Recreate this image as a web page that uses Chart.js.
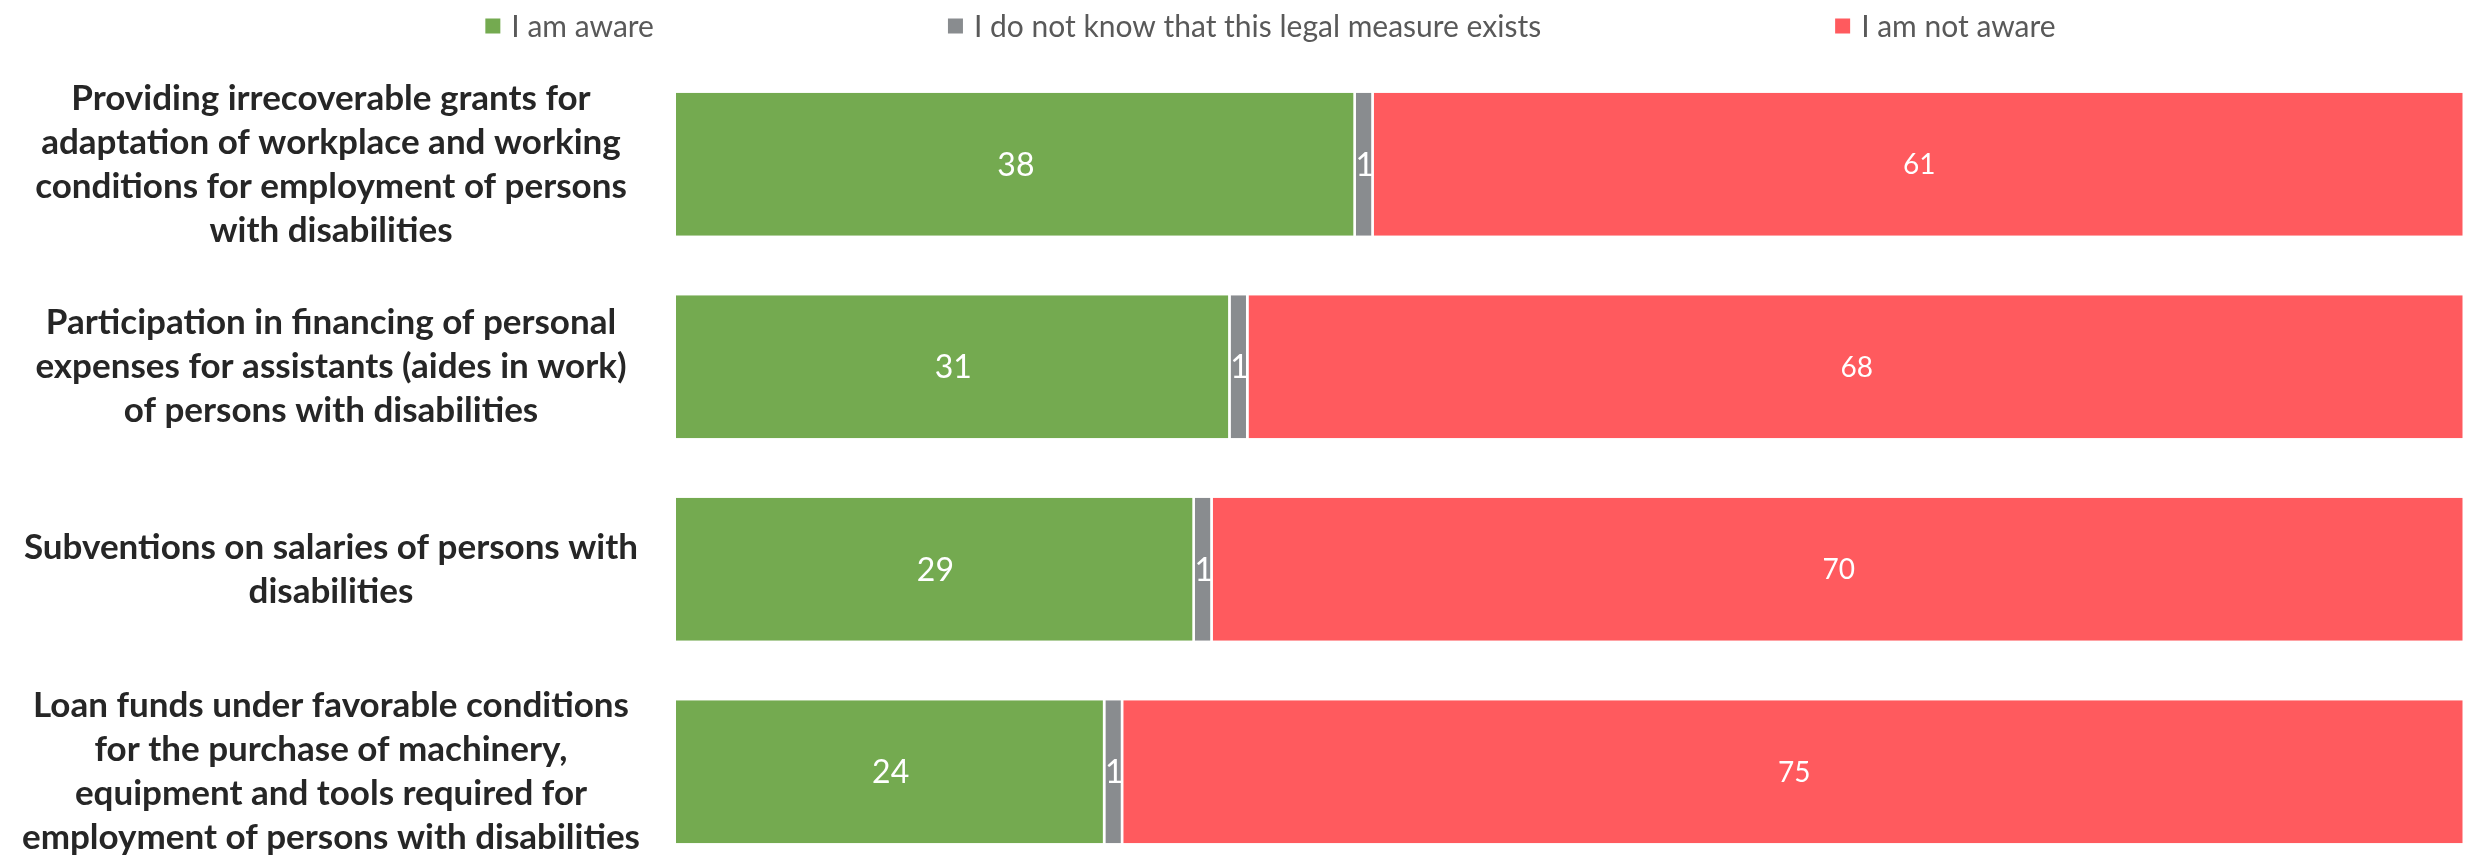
<!DOCTYPE html>
<html>
<head>
<meta charset="utf-8">
<script src="https://cdn.jsdelivr.net/npm/chart.js@4.4.1/dist/chart.umd.min.js"></script>
<style>
    html, body { margin: 0; padding: 0; background: #fff; overflow: hidden; }
    #chart-con { position: relative; width: 2465px; height: 873px; }
</style>
</head>
<body>
<div id="chart-con"><canvas id="my-chart"></canvas></div>
<script>
const labels = [
    ['Providing irrecoverable grants for', 'adaptation of workplace and working', 'conditions for employment of persons', 'with disabilities'],
    ['Participation in financing of personal', 'expenses for assistants (aides in work)', 'of persons with disabilities'],
    ['Subventions on salaries of persons with', 'disabilities'],
    ['Loan funds under favorable conditions', 'for the purchase of machinery,', 'equipment and tools required for', 'employment of persons with disabilities']
];
const seriesNames = ['I am aware', 'I do not know that this legal measure exists', 'I am not aware'];
const aware = [38, 31, 29, 24];
const dontKnow = [1, 1, 1, 1];
const notAware = [61, 68, 70, 75];

Chart.defaults.font.family = 'Lato';
Chart.defaults.animation = false;

// white numbers in the middle of every segment
const barLabels = {
    id: 'barLabels',
    afterDatasetsDraw(chart) {
        const ctx = chart.ctx;
        ctx.save();
        ctx.fillStyle = '#fff';
        ctx.textAlign = 'center';
        ctx.textBaseline = 'middle';
        chart.data.datasets.forEach((ds, i) => {
            ctx.font = ds.labelSize + 'px Lato';
            chart.getDatasetMeta(i).data.forEach((bar, j) => {
                ctx.fillText(ds.data[j], (bar.x + bar.base) / 2, bar.y + 1);
            });
        });
        ctx.restore();
    }
};

// one row legend, items spread with a wide gap
const topLegend = {
    id: 'topLegend',
    afterDraw(chart) {
        const ctx = chart.ctx;
        const box = 15, gap = 11, spacing = 294, y = 26, shift = 38;
        ctx.save();
        ctx.font = '30px Lato';
        ctx.textBaseline = 'middle';
        const items = chart.data.datasets.map(ds => ({
            text: ds.label,
            color: ds.backgroundColor,
            w: box + gap + ctx.measureText(ds.label).width
        }));
        const total = items.reduce((s, it) => s + it.w, 0) + spacing * (items.length - 1);
        let x = chart.width / 2 + shift - total / 2;
        items.forEach(it => {
            ctx.fillStyle = it.color;
            ctx.fillRect(x, y - box / 2, box, box);
            ctx.fillStyle = '#595959';
            ctx.fillText(it.text, x + box + gap, y + 1);
            x += it.w + spacing;
        });
        ctx.restore();
    }
};

const data = {
    labels: labels,
    datasets: [
        { label: seriesNames[0], data: aware, backgroundColor: '#74AA50', labelSize: 32 },
        { label: seriesNames[1], data: dontKnow, backgroundColor: '#898C8F', labelSize: 32 },
        { label: seriesNames[2], data: notAware, backgroundColor: '#FF5A5E', labelSize: 28 }
    ]
};
data.datasets.forEach(ds => {
    ds.borderColor = '#fff';
    ds.borderWidth = { right: 2.5 };
    ds.borderSkipped = false;
    ds.barPercentage = 0.706;
    ds.categoryPercentage = 1;
});

const config = {
    type: 'bar',
    data,
    options: {
        indexAxis: 'y',
        responsive: true,
        maintainAspectRatio: false,
        layout: { padding: { top: 63, left: 0, right: 0, bottom: 0 } },
        plugins: {
            legend: { display: false },
            tooltip: { enabled: false }
        },
        scales: {
            x: { stacked: true, display: false, min: 0, max: 100 },
            y: {
                stacked: true,
                grid: { display: false, drawTicks: false },
                border: { display: false },
                ticks: {
                    color: '#262626',
                    padding: 36,
                    crossAlign: 'center',
                    font: { size: 35, weight: 'bold', lineHeight: 44 / 35 }
                },
                afterFit(scale) {
                    scale.width = 676;
                    scale.paddingTop = 0;
                    scale.paddingBottom = 0;
                }
            }
        }
    },
    plugins: [barLabels, topLegend]
};

var myChart = new Chart(document.getElementById('my-chart').getContext('2d'), config);
</script>
</body>
</html>
